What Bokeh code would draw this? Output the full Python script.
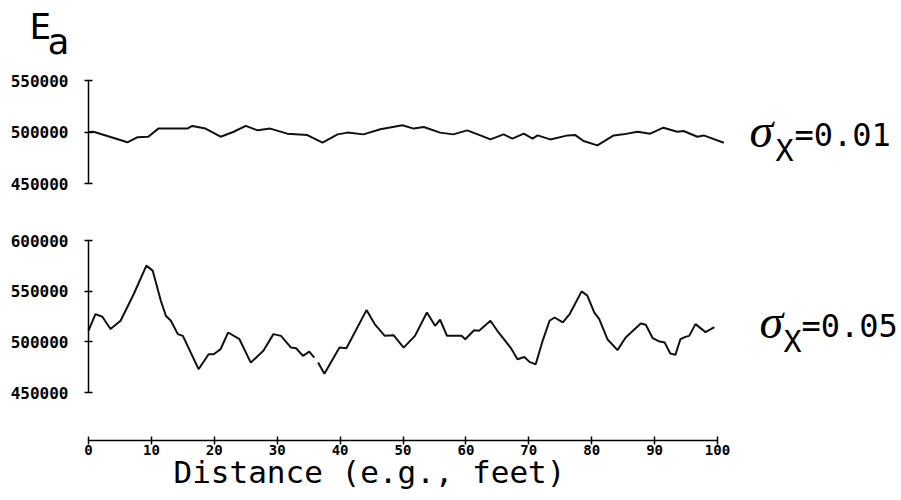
import numpy as np
from bokeh.plotting import figure
from bokeh.models import Range1d, FixedTicker, Label, BasicTickFormatter, LinearAxis
from bokeh.embed import file_html
from bokeh.resources import INLINE

# ---------------- data ----------------
top_x = [0, 0.8, 6.2, 7.8, 9.5, 11.1, 15.7, 16.5, 18.6, 21.0, 23.0, 25.0, 26.9, 28.9,
         31.6, 34.8, 37.2, 39.6, 41.2, 43.7, 46.4, 49.9, 51.7, 53.3, 55.9, 58.0, 60.2,
         62.3, 63.9, 66.0, 67.4, 69.2, 70.6, 71.4, 73.4, 76.2, 77.4, 78.7, 80.9, 83.5,
         85.0, 87.3, 89.3, 91.4, 93.6, 94.6, 96.8, 97.8, 101.0]
top_y = [500000, 500300, 490000, 495000, 495400, 503300, 503300, 505900, 503300, 495400,
         500000, 505900, 501600, 503300, 498400, 497000, 489600, 497700, 499400, 497700,
         502600, 506500, 503300, 504900, 499400, 497700, 501600, 496700, 492800, 497700,
         493500, 498400, 493500, 496700, 492800, 496700, 497000, 491200, 487000, 496700,
         497700, 500300, 498400, 504200, 500300, 501000, 495400, 496700, 489600]

bot_x = [0, 1.1, 2.2, 3.5, 5.1, 7.2, 9.2, 10.2, 11.5, 12.3, 13.1, 14.2, 15.0, 17.5, 19.1,
         19.9, 21.0, 22.2, 24.0, 25.8, 27.8, 29.4, 30.6, 32.2, 33.0, 34.1, 35.1, 35.9,
         36.2, 36.5, 37.5, 39.9, 41.0, 44.2, 45.5, 47.1, 48.5, 50.1, 51.9, 53.8, 55.1,
         55.9, 57.0, 59.3, 59.9, 61.3, 62.1, 63.9, 65.0, 67.1, 68.2, 69.3, 70.1, 71.1,
         72.2, 73.3, 74.1, 75.4, 76.5, 78.4, 79.3, 80.4, 81.2, 82.5, 84.1, 85.4, 87.8,
         88.6, 89.7, 90.8, 91.6, 92.5, 93.3, 94.1, 94.9, 95.5, 96.5, 98.1, 99.5]
bot_y = [511000, 527400, 524800, 512600, 520800, 547200, 575200, 570300, 540600, 525700,
         520800, 507600, 505900, 473000, 487800, 487800, 492800, 509200, 502600, 479500,
         491100, 507600, 505900, 494300, 493700, 486100, 490400, 484400,
         None, 479500, 468600, 494300, 493700, 531300, 517500, 505900, 506600, 494300,
         505900, 529000, 515800, 521800, 505900, 505900, 502600, 511500, 510900, 520800,
         510900, 494300, 482800, 485100, 480200, 477800, 501000, 520800, 524000, 519100,
         527400, 549800, 545600, 529000, 522500, 502600, 491800, 504200, 518100, 516800,
         503600, 500300, 499300, 488400, 487100, 502600, 504900, 505900, 517500, 509600,
         514600]

x_ticks = list(range(0, 101, 10))
top_ticks = [450000, 500000, 550000]
bot_ticks = [450000, 500000, 550000, 600000]
top_label = ["\u03c3", "X", "=0.01"]
bot_label = ["\u03c3", "X", "=0.05"]
y_title = ["E", "a"]
x_title = "Distance (e.g., feet)"

# ---------------- geometry (page pixels -> data) ----------------
W, H = 901, 500
X0_PX, PPU = 88, 6.29                 # distance 0 at page x 88, 6.29 px per unit
B_UPP = 150000 / 152                  # lower panel: 600000 at y 240, 450000 at y 392
T_UPP = 100000 / 103                  # upper panel: 550000 at y 80, 450000 at y 183
LIFT = 12                             # label baseline correction (px)


def px_x(px):
    return (px - X0_PX) / PPU


def b_y(py):
    return 600000 - (py - 240) * B_UPP


def t_y(py):
    return 550000 - (py - 80) * T_UPP


MONO = "DejaVu Sans Mono"

p = figure(width=W, height=H, output_backend="svg", toolbar_location=None, title=None,
           x_range=Range1d(px_x(0), px_x(W)), y_range=Range1d(b_y(H), b_y(0)),
           min_border=0, min_border_left=0, min_border_right=0,
           min_border_top=0, min_border_bottom=0)
p.extra_y_ranges = {"top": Range1d(t_y(H), t_y(0))}
p.outline_line_color = None
p.grid.grid_line_color = None
p.background_fill_color = "white"
p.border_fill_color = "white"


def style_axis(ax, ticks, size="16px"):
    ax.ticker = FixedTicker(ticks=ticks)
    ax.axis_line_color = "black"
    ax.axis_line_width = 1.5
    ax.major_tick_line_color = "black"
    ax.major_tick_line_width = 1.5
    ax.major_tick_in = 4
    ax.major_tick_out = 4
    ax.minor_tick_in = 0
    ax.minor_tick_out = 0
    ax.major_label_text_font = MONO
    ax.major_label_text_font_style = "bold"
    ax.major_label_text_font_size = size
    ax.major_label_text_color = "black"


# lower-panel y axis (default range)
ya = p.yaxis[0]
style_axis(ya, bot_ticks)
ya.formatter = BasicTickFormatter(use_scientific=False)
ya.major_label_standoff = 16
ya.bounds = (450000, 600000)
ya.fixed_location = 0

# upper-panel y axis
yt = LinearAxis(y_range_name="top")
style_axis(yt, top_ticks)
yt.formatter = BasicTickFormatter(use_scientific=False)
yt.major_label_standoff = 16
yt.bounds = (450000, 550000)
yt.fixed_location = 0
p.add_layout(yt, "left")

# distance axis
xa = p.xaxis[0]
style_axis(xa, x_ticks, size="14px")
xa.bounds = (0, 100)
xa.major_label_standoff = 0
xa.fixed_location = b_y(440)

# series
p.line(top_x, top_y, y_range_name="top", line_color="#111111", line_width=2)
by = np.array([np.nan if v is None else v for v in bot_y], dtype=float)
p.line(bot_x, by, line_color="#111111", line_width=2)


def put(text, px, py, font=MONO, size="32px", style="normal"):
    p.add_layout(Label(x=px_x(px), y=b_y(py - LIFT), text=text, text_font=font,
                       text_font_size=size, text_font_style=style, text_color="black",
                       text_baseline="alphabetic", text_align="left"))


# E_a
put(y_title[0], 29, 38, size="36px")
put(y_title[1], 47, 53, size="36px")

# sigma labels
put(top_label[0], 749, 142, font="Liberation Serif", size="48px", style="italic")
put(top_label[1], 775, 162, size="30px")
put(top_label[2], 794, 146, size="32px")
put(bot_label[0], 759, 333, font="Liberation Serif", size="48px", style="italic")
put(bot_label[1], 783, 353, size="30px")
put(bot_label[2], 801, 337, size="32px")

# distance title
put(x_title, 173, 483, size="31px")

open("out.html", "w").write(file_html(p, INLINE))
